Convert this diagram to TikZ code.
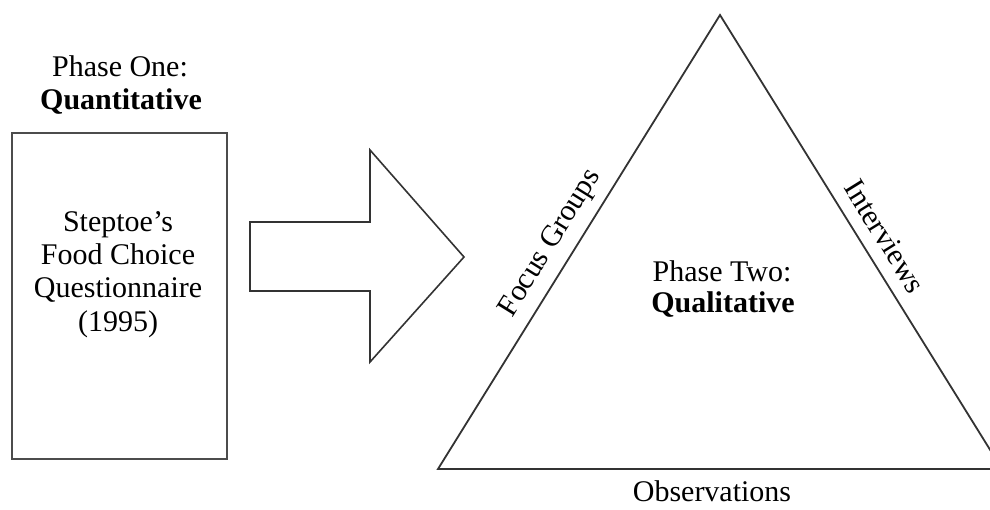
\documentclass[tikz,border=0pt]{standalone}
\usepackage{fontspec}
\setmainfont{Liberation Serif}
\begin{document}
\begin{tikzpicture}[x=1pt,y=-1pt,
  lbl/.style={font=\fontsize{30}{33}\selectfont, inner sep=0pt},
  outline/.style={draw=black!80, line width=1.8pt, line join=miter}]
\useasboundingbox (0,0) rectangle (990,510);
\clip (0,0) rectangle (990,510);
% Phase one
\node[lbl, anchor=base] (p1a) at (120,77) {Phase One:};
\node[lbl, anchor=base] (p1b) at (121,110) {\bfseries Quantitative};
\draw[outline, draw=black!70, line width=2.2pt] (12,133) rectangle (227,459);
\node[lbl, anchor=base] (s1) at (118,232) {Steptoe’s};
\node[lbl, anchor=base] (s2) at (118,265) {Food Choice};
\node[lbl, anchor=base] (s3) at (118,298) {Questionnaire};
\node[lbl, anchor=base] (s4) at (118,331) {(1995)};
% block arrow
\draw[outline, line width=1.6pt] (250,222) -- (370,222) -- (370,150) -- (464,257) -- (370,362) -- (370,291) -- (250,291) -- cycle;
% triangle
\coordinate (bl) at (438,469);
\coordinate (ap) at (720,15);
\coordinate (br) at (1002,469);
\draw[outline] (bl) -- (ap) -- (br) -- cycle;
\path (bl) -- node[lbl, sloped, pos=0.47, anchor=south, yshift=10pt] (fg) {Focus Groups} (ap);
\path (ap) -- node[lbl, sloped, pos=0.515, anchor=south, yshift=13pt] (iv) {Interviews} (br);
\node[lbl, anchor=base] (ob) at (712,501) {Observations};
\node[lbl, anchor=base] (p2a) at (722,282) {Phase Two:};
\node[lbl, anchor=base] (p2b) at (723,313) {\bfseries Qualitative};
\end{tikzpicture}
\end{document}
